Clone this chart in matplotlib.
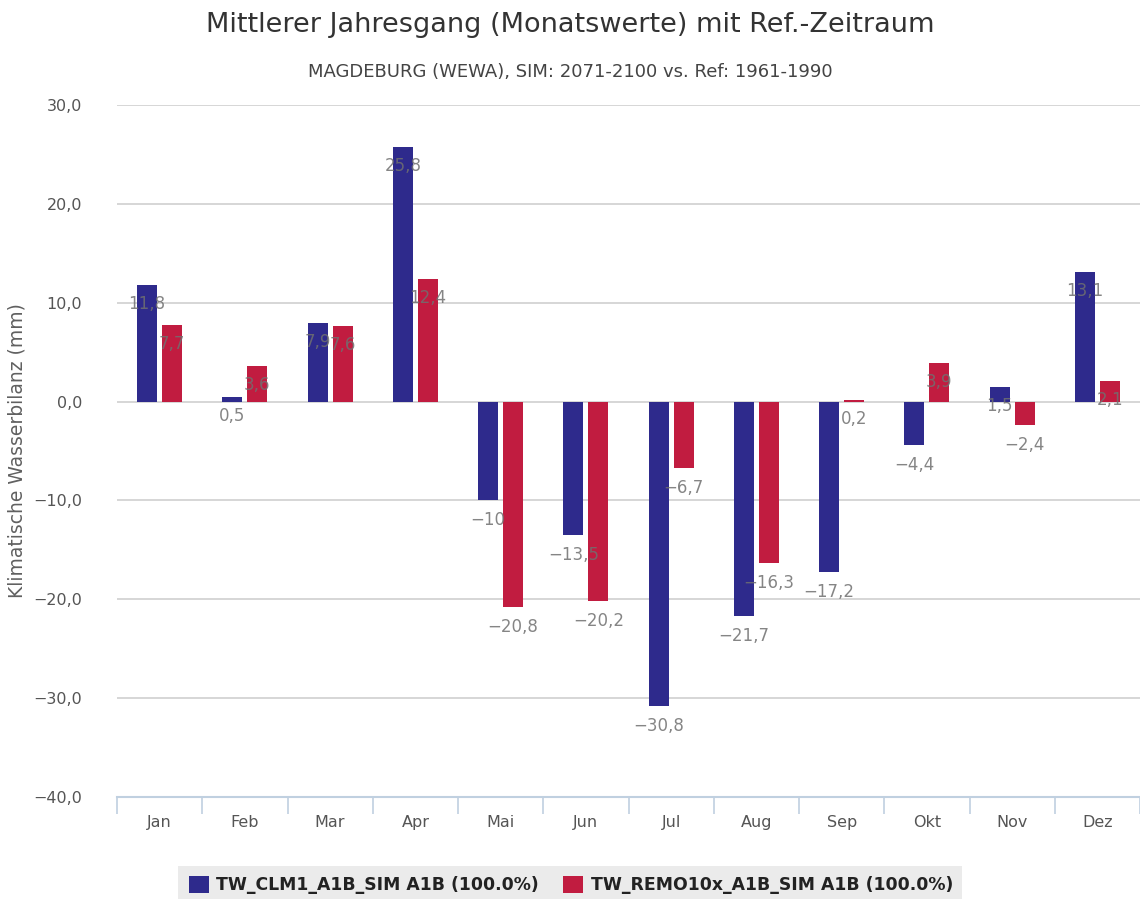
import numpy as np
import matplotlib
matplotlib.use("Agg")
import matplotlib.pyplot as plt
from matplotlib.patches import Rectangle

plt.rcParams['font.family'] = ['DejaVu Sans']

# Monatswerte
monate = ["Jan", "Feb", "Mar", "Apr", "Mai", "Jun", "Jul", "Aug", "Sep", "Okt", "Nov", "Dez"]
clm1 = [11.8, 0.5, 7.9, 25.8, -10.0, -13.5, -30.8, -21.7, -17.2, -4.4, 1.5, 13.1]
remo = [7.7, 3.6, 7.6, 12.4, -20.8, -20.2, -6.7, -16.3, 0.2, 3.9, -2.4, 2.1]
serien = ["TW_CLM1_A1B_SIM A1B (100.0%)", "TW_REMO10x_A1B_SIM A1B (100.0%)"]
yticks = [30, 20, 10, 0, -10, -20, -30, -40]

farben = ["#2e2a8c", "#c11c40"]


def fmt(v, nachkomma=None):
    if nachkomma is None:
        s = ("%d" % v) if float(v).is_integer() else ("%.1f" % v)
    else:
        s = "%.*f" % (nachkomma, v)
    return s.replace(".", ",").replace("-", "\u2212")


fig = plt.figure(figsize=(11.4, 8.99), dpi=100)
ax = fig.add_axes([117 / 1140, 1 - 797 / 899, 1 - 117 / 1140, (797 - 105) / 899])

x = np.arange(len(monate))
breite = 0.235
versatz = 0.147

for i, (werte, farbe) in enumerate(zip([clm1, remo], farben)):
    pos = x + (versatz if i else -versatz)
    ax.bar(pos, werte, width=breite, color=farbe, label=serien[i], zorder=3)
    for xp, v in zip(pos, werte):
        off = -19 if v >= 0 else -20
        ax.annotate(fmt(v), (xp, v), xytext=(0, off), textcoords="offset pixels",
                    ha="center", va="center", fontsize=12, color="#707070",
                    alpha=0.85, zorder=4)

ax.set_xlim(-0.5, len(monate) - 0.5)
ax.set_ylim(-40, 30)
ax.set_yticks(yticks)
ax.set_yticklabels([fmt(t, 1) for t in yticks])
ax.yaxis.grid(True, color="#d0d0d0", lw=1.2, zorder=0)
ax.tick_params(axis="y", length=0, pad=25, labelsize=11.5, labelcolor="#555555")

ax.set_xticks(x)
ax.set_xticklabels(monate)
ax.tick_params(axis="x", length=0, pad=13, labelsize=11.5, labelcolor="#555555")
# Trennstriche zwischen Kategorien
ax.set_xticks(np.arange(-0.5, len(monate) + 0.5, 1), minor=True)
ax.tick_params(axis="x", which="minor", length=12, color="#c0d0e0", width=1.2)

for s in ["top", "right", "left"]:
    ax.spines[s].set_visible(False)
ax.spines["bottom"].set_color("#c0d0e0")
ax.spines["bottom"].set_linewidth(1.5)

ax.set_ylabel("Klimatische Wasserbilanz (mm)", fontsize=13.5, color="#606060")
ax.yaxis.set_label_coords(-90 / 1023, 0.5)

fig.text(0.5, 1 - 25 / 899, "Mittlerer Jahresgang (Monatswerte) mit Ref.-Zeitraum",
         ha="center", va="center", fontsize=19.5, color="#333333")
fig.text(0.5, 1 - 72 / 899, "MAGDEBURG (WEWA), SIM: 2071-2100 vs. Ref: 1961-1990",
         ha="center", va="center", fontsize=13, color="#444444")

# Legende
fig.patches.append(Rectangle((178 / 1140, 0), (962 - 178) / 1140, 33 / 899,
                             transform=fig.transFigure, facecolor="#ebebeb",
                             edgecolor="none", zorder=0))
leg = fig.legend(loc="center", bbox_to_anchor=(571 / 1140, 1 - 885 / 899), ncol=2,
                 frameon=False, handlelength=1.15, handleheight=1.15,
                 columnspacing=1.4, handletextpad=0.45,
                 prop={"weight": "bold", "size": 12.4})
for t in leg.get_texts():
    t.set_color("#222222")

fig.savefig("out.png", dpi=100)
